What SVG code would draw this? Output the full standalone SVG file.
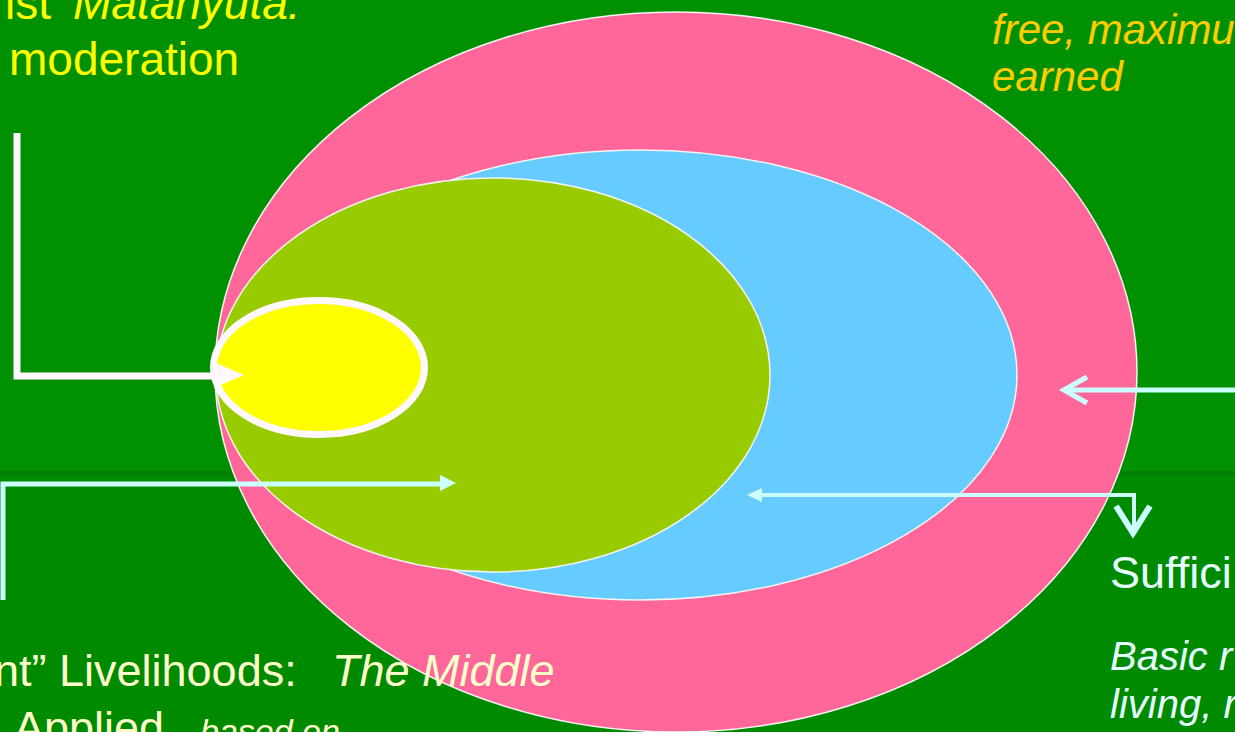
<svg xmlns="http://www.w3.org/2000/svg" width="1235" height="732" viewBox="0 0 1235 732">
<defs>
<style>
.t{font-family:"Liberation Sans",Arial,sans-serif;}
.i{font-style:italic;}
.ring{stroke:#f4f4f4;stroke-width:1.5;}
.cy{stroke:#ccffff;fill:none;stroke-linecap:butt;stroke-linejoin:miter;}
</style>
</defs>
<rect x="0" y="0" width="1235" height="475" fill="#009000"/>
<rect x="0" y="471" width="1235" height="5" fill="#007f00"/>
<rect x="0" y="476" width="1235" height="256" fill="#008a00"/>

<g id="outer-pink">
<ellipse class="ring" cx="676" cy="372" rx="461" ry="360" fill="#ff6699"/>
</g>
<g id="middle-blue">
<ellipse class="ring" cx="640" cy="375" rx="377" ry="225" fill="#66ccff"/>
</g>
<g id="inner-green">
<ellipse class="ring" cx="493" cy="375" rx="277" ry="197" fill="#99cc00"/>
</g>
<g id="core-yellow">
<ellipse cx="319" cy="367.5" rx="105.5" ry="67" fill="#ffff00" stroke="#fff8ff" stroke-width="7"/>
</g>

<g id="connectors">
<polyline points="17,133 17,376 216,376" fill="none" stroke="#fff8ff" stroke-width="7"/>
<polygon points="214,362 244,375 214,388" fill="#fff8ff"/>
<polyline class="cy" points="3,600 3,484 442,484" stroke-width="5"/>
<polygon points="440,475 456,483 440,491" fill="#ccffff"/>
<line class="cy" x1="1235" y1="390" x2="1066" y2="390" stroke-width="5"/>
<polyline class="cy" points="1087,377 1064,390 1087,403" stroke-width="5"/>
<polyline class="cy" points="752,495 1134,495 1134,533" stroke-width="4"/>
<polygon points="762,488 747,495 762,502" fill="#ccffff"/>
<polyline class="cy" points="1116,506 1133,533 1150,506" stroke-width="6"/>
</g>

<g id="label-top-left" class="t" font-size="46" fill="#ffff00">
<text x="5" y="19">ist <tspan class="i" x="73">Matanyuta:</tspan></text>
<text x="9" y="75">moderation</text>
</g>
<g id="label-top-right" class="t i" font-size="42" fill="#ffcc00">
<text x="992" y="44">free, maximu</text>
<text x="992" y="91">earned</text>
</g>
<g id="label-bottom-left" class="t" fill="#ffffcc">
<text x="-6" y="686" font-size="45">nt” Livelihoods: <tspan class="i" x="332">The Middle</tspan></text>
<text x="14" y="743" font-size="45">Applied <tspan class="i" x="200" font-size="34">based on</tspan></text>
</g>
<g id="label-bottom-right" class="t" fill="#e6ffff">
<text x="1110" y="588" font-size="45">Suffici</text>
<text class="i" x="1110" y="670" font-size="40">Basic r</text>
<text class="i" x="1110" y="718" font-size="40">living, r</text>
</g>
</svg>
